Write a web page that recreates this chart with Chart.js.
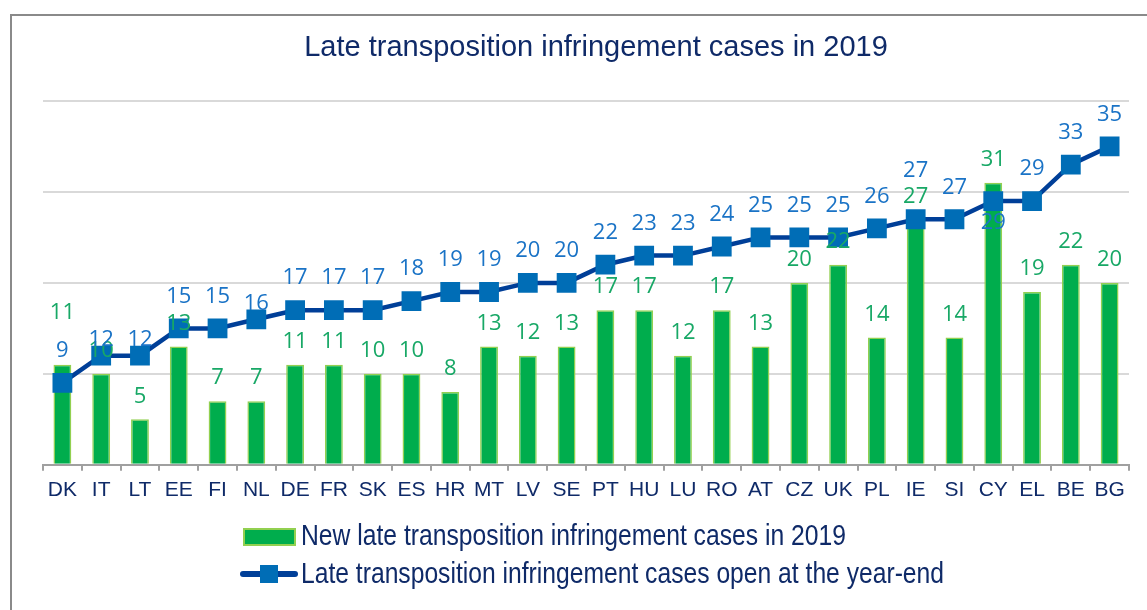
<!DOCTYPE html>
<html>
<head>
    <title>Late transposition infringement cases in 2019</title>
    <script src="https://cdn.jsdelivr.net/npm/chart.js"></script>
    <style>
        body { margin: 0; background: #fff; overflow: hidden; }
        .frame { position: absolute; left: 10px; top: 14px; width: 1300px; height: 800px; border: 2px solid #8a8a8a; }
        .chart-box { position: absolute; left: 0; top: 0; width: 1147px; height: 610px; }
    </style>
</head>
<body>
    <div class="frame"></div>
    <div class="chart-box">
        <canvas id="lateChart"></canvas>
    </div>

    <script>
        // Member states, ordered as in the report
        const countries = ['DK', 'IT', 'LT', 'EE', 'FI', 'NL', 'DE', 'FR', 'SK', 'ES', 'HR', 'MT', 'LV', 'SE',
                           'PT', 'HU', 'LU', 'RO', 'AT', 'CZ', 'UK', 'PL', 'IE', 'SI', 'CY', 'EL', 'BE', 'BG'];
        const newCases = [11, 10, 5, 13, 7, 7, 11, 11, 10, 10, 8, 13, 12, 13,
                          17, 17, 12, 17, 13, 20, 22, 14, 27, 14, 31, 19, 22, 20];
        const openCases = [9, 12, 12, 15, 15, 16, 17, 17, 17, 18, 19, 19, 20, 20,
                           22, 23, 23, 24, 25, 25, 25, 26, 27, 27, 29, 29, 33, 35];
        const yTicks = [0, 10, 20, 30, 40];

        const titleText = 'Late transposition infringement cases in 2019';
        const barLabel = 'New late transposition infringement cases in 2019';
        const lineLabel = 'Late transposition infringement cases open at the year-end';

        // how far above its mark each value label sits (px); defaults below
        const barLift = { DK: 52 };
        const lineLift = { IT: 16, LT: 16, NL: 16, IE: 49, CY: -22 };

        const navy = '#0f2a68';

        const valueLabels = {
            id: 'valueLabels',
            afterDatasetsDraw(chart) {
                const ctx = chart.ctx;
                ctx.save();
                ctx.font = '22px "Open Sans"';
                ctx.textAlign = 'center';
                ctx.textBaseline = 'middle';
                ctx.fillStyle = '#18a866';
                chart.getDatasetMeta(0).data.forEach((bar, i) => {
                    const lift = barLift[countries[i]] ?? 23;
                    ctx.fillText(newCases[i], bar.x, bar.y - lift);
                });
                ctx.fillStyle = '#1a73c6';
                chart.getDatasetMeta(1).data.forEach((pt, i) => {
                    const lift = lineLift[countries[i]] ?? 32;
                    ctx.fillText(openCases[i], pt.x, pt.y - lift);
                });
                ctx.restore();
            }
        };

        // title and legend drawn by hand to match the original layout
        const decorations = {
            id: 'decorations',
            afterDraw(chart) {
                const ctx = chart.ctx;
                ctx.save();
                ctx.fillStyle = navy;
                ctx.textBaseline = 'middle';
                ctx.textAlign = 'center';
                ctx.font = '29px "Liberation Sans"';
                ctx.fillText(titleText, 596, 48);

                // bar entry
                ctx.fillStyle = '#00ad4d';
                ctx.strokeStyle = '#92d050';
                ctx.lineWidth = 2;
                ctx.fillRect(244, 529, 51, 16);
                ctx.strokeRect(244, 529, 51, 16);

                // line entry
                ctx.strokeStyle = '#003f98';
                ctx.lineWidth = 6;
                ctx.lineCap = 'round';
                ctx.beginPath();
                ctx.moveTo(243, 574);
                ctx.lineTo(295, 574);
                ctx.stroke();
                ctx.fillStyle = '#006db6';
                ctx.fillRect(260, 565, 18, 18);

                ctx.fillStyle = navy;
                ctx.textAlign = 'left';
                ctx.font = '29px "Liberation Sans Narrow", "Liberation Sans"';
                const drawSquished = (text, x, y, width) => {
                    const w = ctx.measureText(text).width;
                    ctx.save();
                    ctx.translate(x, y);
                    ctx.scale(width / w, 1);
                    ctx.fillText(text, 0, 0);
                    ctx.restore();
                };
                drawSquished(barLabel, 301, 537, 545);
                drawSquished(lineLabel, 301, 575, 643);
                ctx.restore();
            }
        };

        const ctx = document.getElementById('lateChart').getContext('2d');
        new Chart(ctx, {
            data: {
                labels: countries,
                datasets: [{
                    type: 'bar',
                    label: barLabel,
                    data: newCases,
                    backgroundColor: '#00ad4d',
                    borderColor: '#92d050',
                    borderWidth: 1.5,
                    barPercentage: 0.46,
                    categoryPercentage: 1,
                    order: 2
                }, {
                    type: 'line',
                    label: lineLabel,
                    data: openCases,
                    borderColor: '#003f98',
                    borderWidth: 4.5,
                    pointStyle: 'rect',
                    pointRadius: 14,
                    pointBackgroundColor: '#006db6',
                    pointBorderColor: '#006db6',
                    pointBorderWidth: 0,
                    tension: 0,
                    order: 1
                }]
            },
            options: {
                responsive: true,
                maintainAspectRatio: false,
                animation: false,
                layout: { padding: { left: 43, right: 18, top: 101, bottom: 100 } },
                plugins: {
                    legend: { display: false },
                    title: { display: false },
                    tooltip: { enabled: false }
                },
                scales: {
                    x: {
                        offset: true,
                        grid: {
                            offset: true,
                            drawOnChartArea: false,
                            drawTicks: true,
                            tickLength: 6,
                            color: '#a0a0a0',
                            lineWidth: 2
                        },
                        border: { color: '#a0a0a0', width: 2 },
                        ticks: {
                            color: navy,
                            padding: 7,
                            font: { family: 'Liberation Sans', size: 21 },
                            maxRotation: 0,
                            autoSkip: false
                        }
                    },
                    y: {
                        min: yTicks[0],
                        max: yTicks[yTicks.length - 1],
                        afterBuildTicks: axis => { axis.ticks = yTicks.map(v => ({ value: v })); },
                        ticks: { display: false },
                        grid: { color: '#d9d9d9', lineWidth: 2, drawTicks: false },
                        border: { display: false }
                    }
                }
            },
            plugins: [valueLabels, decorations]
        });
    </script>
</body>
</html>
